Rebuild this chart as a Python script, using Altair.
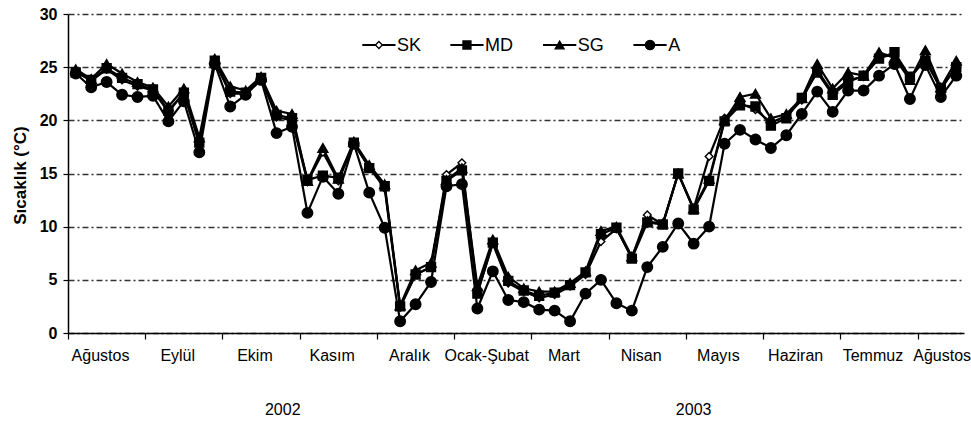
import altair as alt
import pandas as pd

# Measurement series and category labels
SERIES = ["SK", "MD", "SG", "A"]
MONTHS = ["Ağustos", "Eylül", "Ekim", "Kasım", "Aralık", "Ocak-Şubat",
          "Mart", "Nisan", "Mayıs", "Haziran", "Temmuz", "Ağustos"]
YEARS = ["2002", "2003"]

SK = [24.6, 23.7, 24.8, 23.8, 23.2, 22.8, 20.8, 22.6, 17.8, 25.5,
      22.5, 22.5, 23.9, 20.3, 20.0, 14.2, 17.0, 14.3, 17.8, 15.6,
      13.6, 2.4, 5.5, 6.2, 14.9, 16.0, 3.8, 8.4, 4.7, 3.9,
      3.3, 3.6, 4.4, 5.5, 8.6, 9.8, 7.1, 11.1, 10.2, 15.0,
      11.7, 16.6, 20.2, 21.6, 21.0, 19.8, 20.4, 21.9, 24.7, 22.6,
      23.8, 24.1, 26.0, 26.1, 23.9, 25.9, 22.9, 25.1]
MD = [24.5, 23.8, 24.9, 24.0, 23.4, 22.9, 20.9, 22.6, 17.9, 25.6,
      22.7, 22.6, 24.0, 20.5, 20.2, 14.4, 14.8, 14.6, 17.9, 15.5,
      13.8, 2.5, 5.5, 6.2, 14.3, 15.3, 3.7, 8.5, 4.9, 4.0,
      3.5, 3.8, 4.5, 5.7, 9.3, 9.9, 7.0, 10.4, 10.2, 15.0,
      11.6, 14.3, 19.9, 21.4, 21.3, 19.5, 20.2, 22.1, 24.5, 22.4,
      23.6, 24.2, 25.8, 26.4, 24.1, 25.6, 23.0, 25.0]
SG = [24.8, 23.9, 25.3, 24.4, 23.6, 23.1, 21.3, 23.0, 18.4, 25.8,
      23.2, 22.8, 24.1, 20.9, 20.6, 14.3, 17.4, 14.5, 18.0, 15.8,
      14.0, 2.6, 5.9, 6.6, 14.4, 15.5, 4.4, 8.8, 5.3, 4.2,
      3.9, 3.9, 4.7, 5.8, 9.6, 10.0, 7.2, 10.5, 10.3, 15.0,
      11.7, 14.5, 20.0, 22.2, 22.5, 20.2, 20.6, 22.1, 25.3, 23.0,
      24.5, 24.2, 26.4, 25.9, 23.8, 26.6, 23.1, 25.6]
A = [24.4, 23.1, 23.6, 22.4, 22.2, 22.3, 19.9, 21.8, 17.0, 25.3,
     21.3, 22.4, 23.8, 18.8, 19.4, 11.3, 14.7, 13.1, 17.8, 13.2,
     9.9, 1.1, 2.7, 4.8, 13.8, 14.0, 2.3, 5.8, 3.1, 2.9,
     2.2, 2.1, 1.1, 3.7, 5.0, 2.8, 2.1, 6.2, 8.1, 10.3,
     8.4, 10.0, 17.8, 19.1, 18.2, 17.4, 18.6, 20.6, 22.7, 20.8,
     22.8, 22.8, 24.2, 25.3, 22.0, 25.2, 22.2, 24.2]

N = len(A)          # samples on the category axis
PER_MONTH = 5       # samples between two month ticks

# marker style per series
SHAPE = {"SK": "diamond", "MD": "square", "SG": "triangle-up", "A": "circle"}
FILL = {"SK": "white", "MD": "black", "SG": "black", "A": "black"}
SIZE = {"SK": 60, "MD": 80, "SG": 100, "A": 110}

# layout of the inset legend and year captions (in sample units)
LEGEND_AT = [19.05, 24.75, 30.75, 36.6]
LEGEND_LINE = 2.15
YEAR_AT = [13.9, 40.5]

FONT = "Liberation Sans"

rows = []
for name, vals in zip(SERIES, [SK, MD, SG, A]):
    for i, v in enumerate(vals):
        rows.append({"seri": name, "pos": i + 0.5, "sicaklik": v})
df = pd.DataFrame(rows)

month_expr = "[" + ",".join("'%s'" % m for m in MONTHS) + "][round(datum.value / %d)]" % PER_MONTH

x_enc = alt.X(
    "pos:Q",
    scale=alt.Scale(domain=[0, N], nice=False, zero=False),
    axis=alt.Axis(
        values=list(range(0, N, PER_MONTH)),
        labelExpr=month_expr,
        title=None,
        grid=False,
        domainColor="black",
        domainWidth=1.5,
        tickColor="black",
        tickWidth=1.2,
        tickSize=6,
        labelFont=FONT,
        labelFontSize=16,
        labelColor="black",
        labelPadding=8,
        labelFlush=False,
        labelOverlap=False,
        labelBound=False,
        labelAlign="center",
        labelOffset={"condition": {"test": "datum.value >= 55", "value": 24}, "value": 32},
    ),
)
y_enc = alt.Y(
    "sicaklik:Q",
    scale=alt.Scale(domain=[0, 30], nice=False),
    axis=alt.Axis(
        values=[0, 5, 10, 15, 20, 25, 30],
        title="Sıcaklık (°C)",
        titleFont=FONT,
        titleFontSize=17,
        titleFontWeight="bold",
        titleColor="black",
        titleX=-48,
        titleY=161,
        titleAlign="center",
        titleBaseline="middle",
        titleAngle=270,
        grid=True,
        gridColor="#333333",
        gridWidth=1.3,
        gridDash=[6, 3, 2, 3],
        domainColor="black",
        domainWidth=1.5,
        tickColor="black",
        tickWidth=1.2,
        tickSize=5,
        labelFont=FONT,
        labelFontSize=16,
        labelFontWeight="bold",
        labelColor="black",
        labelPadding=6,
    ),
)

base = alt.Chart(df)
layers = []
for s in SERIES:
    sub = base.transform_filter(alt.datum.seri == s)
    layers.append(sub.mark_line(color="black", strokeWidth=2.2).encode(x=x_enc, y=y_enc))
    layers.append(
        sub.mark_point(
            shape=SHAPE[s], filled=True, fill=FILL[s], stroke="black",
            strokeWidth=1.4, size=SIZE[s], opacity=1,
        ).encode(x=x_enc, y=y_enc)
    )

# inset legend
leg = pd.DataFrame({
    "seri": SERIES,
    "x0": LEGEND_AT,
    "x1": [v + LEGEND_LINE for v in LEGEND_AT],
    "xm": [v + LEGEND_LINE / 2 for v in LEGEND_AT],
    "xt": [v + LEGEND_LINE + 0.1 for v in LEGEND_AT],
})
leg_base = alt.Chart(leg)
layers.append(
    leg_base.mark_rule(color="black", strokeWidth=2).encode(
        x="x0:Q", x2="x1:Q", y=alt.value(31)
    )
)
for s in SERIES:
    layers.append(
        leg_base.transform_filter(alt.datum.seri == s).mark_point(
            shape=SHAPE[s], filled=True, fill=FILL[s], stroke="black",
            strokeWidth=1.3, size=SIZE[s] * 0.8, opacity=1,
        ).encode(x="xm:Q", y=alt.value(31))
    )
layers.append(
    leg_base.mark_text(align="left", baseline="middle", font=FONT, fontSize=18, color="black").encode(
        x="xt:Q", y=alt.value(32), text="seri:N"
    )
)

# year captions under the month labels
years = pd.DataFrame({"yil": YEARS, "pos": YEAR_AT})
layers.append(
    alt.Chart(years).mark_text(font=FONT, fontSize=16, color="black", baseline="middle").encode(
        x="pos:Q", y=alt.value(396), text="yil:N"
    )
)

chart = (
    alt.layer(*layers)
    .properties(
        width=896,
        height=319,
        padding={"left": 68, "top": 14, "right": 7, "bottom": 94},
        autosize=alt.AutoSizeParams(type="none"),
        background="white",
    )
    .configure_view(stroke=None)
)

chart.save("out.html", embed_options={"renderer": "svg", "actions": False})
